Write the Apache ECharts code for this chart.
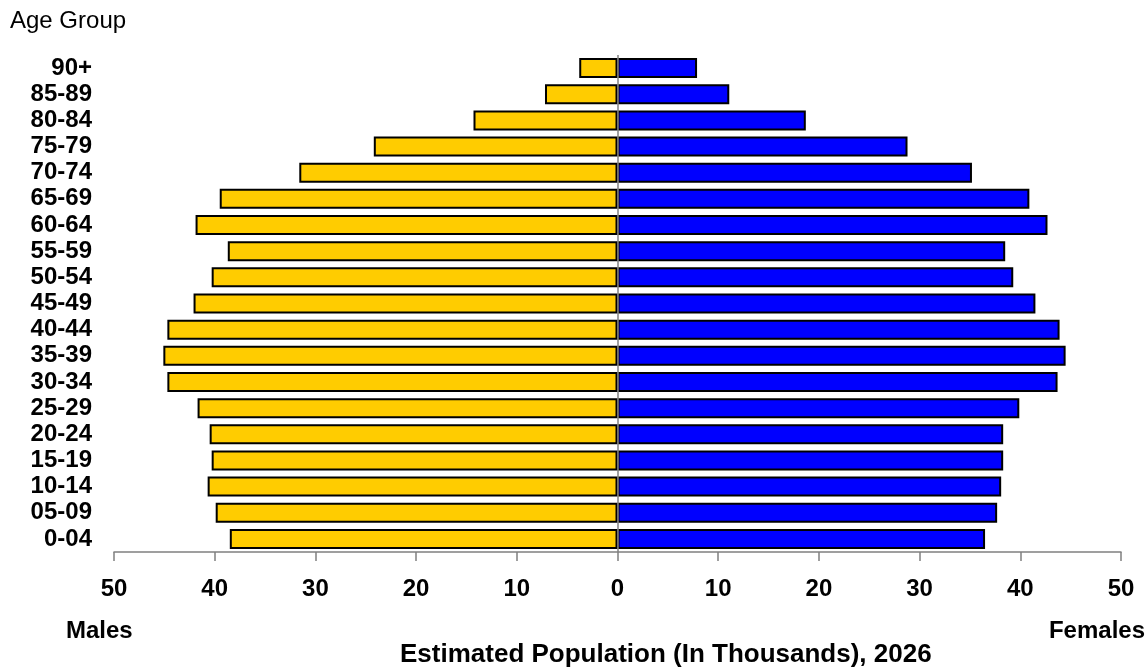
<!DOCTYPE html>
<html><head><meta charset="utf-8">
<script src="https://cdn.jsdelivr.net/npm/echarts@6/dist/echarts.min.js"></script>
<style>html,body{margin:0;padding:0;background:#fff}#c{width:1148px;height:670px}</style>
</head><body><div id="c"></div>
<script>
const ageGroups = ['0-04','05-09','10-14','15-19','20-24','25-29','30-34','35-39','40-44','45-49','50-54','55-59','60-64','65-69','70-74','75-79','80-84','85-89','90+'];
const males = [38.5,39.9,40.7,40.3,40.5,41.7,44.7,45.1,44.7,42.1,40.3,38.7,41.9,39.5,31.6,24.2,14.3,7.2,3.8];
const females = [36.5,37.7,38.1,38.3,38.3,39.9,43.7,44.5,43.9,41.5,39.3,38.5,42.7,40.9,35.2,28.8,18.7,11.1,7.9];
const xTicks = [-50,-40,-30,-20,-10,0,10,20,30,40,50];

const font = '"Liberation Sans", Arial, sans-serif';
const chart = echarts.init(document.getElementById('c'), null, {renderer:'canvas'});
chart.setOption({
  animation:false,
  textStyle:{fontFamily:font},
  grid:{left:114,right:27,top:55,bottom:118},
  xAxis:{type:'value',min:xTicks[0],max:xTicks[xTicks.length-1],interval:10,
    axisLine:{show:true,onZero:false,lineStyle:{color:'#808080',width:1.5}},
    axisTick:{show:true,length:9,lineStyle:{color:'#808080',width:1.5}},
    splitLine:{show:false},
    axisLabel:{margin:25,fontSize:24,fontWeight:'bold',color:'#000',fontFamily:font,formatter:v=>String(Math.abs(v))}
  },
  yAxis:{type:'category',data:ageGroups,position:'left',
    axisLine:{show:false},axisTick:{show:false},
    axisLabel:{interval:0,hideOverlap:false,margin:22,fontSize:24,fontWeight:'bold',color:'#000',fontFamily:font}
  },
  series:[
    {type:'bar',name:'Males',stack:'p',barWidth:20,data:males.map(v=>-v),
     itemStyle:{color:'#FFCC00',borderColor:'#000',borderWidth:2},
     markLine:{silent:true,symbol:'none',label:{show:false},lineStyle:{color:'#808080',width:1.5,type:'solid'},data:[{xAxis:0}]}},
    {type:'bar',name:'Females',stack:'p',barWidth:20,data:females,
     itemStyle:{color:'#0000FF',borderColor:'#000',borderWidth:2}}
  ],
  graphic:[
    {type:'text',left:10,top:9,style:{text:'Age Group',font:'24px '+font,fill:'#000'}},
    {type:'text',left:66,top:619,style:{text:'Males',font:'bold 24px '+font,fill:'#000'}},
    {type:'text',right:3,top:619,style:{text:'Females',font:'bold 24px '+font,fill:'#000'}},
    {type:'text',left:400,top:642,style:{text:'Estimated Population (In Thousands), 2026',font:'bold 26px '+font,fill:'#000'}}
  ]
});
</script></body></html>
